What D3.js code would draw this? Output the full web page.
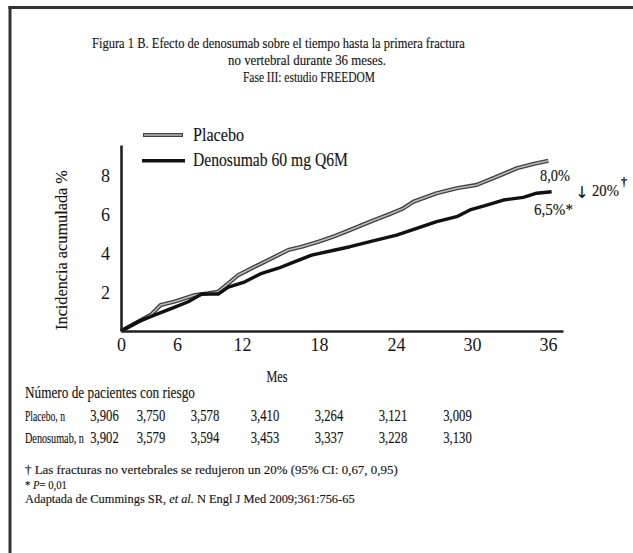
<!DOCTYPE html>
<html>
<head>
<meta charset="utf-8">
<script src="https://cdn.jsdelivr.net/npm/d3@7"></script>
<style>
  html, body { margin: 0; padding: 0; background: #fff; }
  svg { display: block; font-family: "Liberation Serif", "DejaVu Serif", serif; }
</style>
</head>
<body>
<svg id="chart" width="633" height="553"></svg>
<script>
// ---------------- DATA ----------------
const titleLines = [
  "Figura 1 B. Efecto de denosumab sobre el tiempo hasta la primera fractura",
  "no vertebral durante 36 meses.",
  "Fase III: estudio FREEDOM"
];
const seriesNames = ["Placebo", "Denosumab 60 mg Q6M"];
const monthTicks = [0, 6, 12, 18, 24, 30, 36];
const pctTicks = [2, 4, 6, 8];

const placeboMonths = [0, 1.85, 3.18, 4.25, 5.68, 6.74, 7.66, 8.89, 9.81, 10.74, 11.66, 13.01, 14.31, 15.60, 16.65, 17.95,
  19.25, 20.42, 21.98, 23.53, 24.58, 25.37, 27.21, 28.79, 30.37, 31.95, 33.53, 34.84, 36.03];
const placeboPct = [0, 0.48, 0.83, 1.34, 1.51, 1.69, 1.86, 1.95, 2.03, 2.46, 2.89, 3.32, 3.75, 4.18, 4.35, 4.61,
  4.90, 5.21, 5.64, 6.04, 6.33, 6.67, 7.11, 7.37, 7.54, 7.96, 8.40, 8.62, 8.79];

const denosumabMonths = [0, 1.85, 3.64, 5.43, 7.04, 8.28, 9.81, 10.74, 12.23, 13.54, 14.83, 16.13, 17.43,
  19.25, 20.42, 21.98, 24.05, 25.63, 27.21, 28.79, 29.84, 31.16, 32.47, 34.05, 35.11, 36.29];
const denosumabPct = [0, 0.48, 0.83, 1.17, 1.51, 1.91, 1.91, 2.26, 2.54, 2.98, 3.24, 3.58, 3.92,
  4.18, 4.35, 4.61, 4.95, 5.30, 5.64, 5.90, 6.25, 6.50, 6.76, 6.90, 7.11, 7.19];

const endLabels = ["8,0%", "6,5%*"];
const reductionLabel = "20%";

const riskTitle = "Número de pacientes con riesgo";
const riskRowLabels = ["Placebo, n", "Denosumab, n"];
const riskPlacebo = ["3,906", "3,750", "3,578", "3,410", "3,264", "3,121", "3,009"];
const riskDenosumab = ["3,902", "3,579", "3,594", "3,453", "3,337", "3,228", "3,130"];

const yTitle = "Incidencia acumulada %";
const xTitle = "Mes";
const footnote1 = "Las fracturas no vertebrales se redujeron un 20% (95% CI: 0,67, 0,95)";
const footnote2Value = "= 0,01";
const footnote3a = "Adaptada de Cummings SR,";
const footnote3b = "et al.";
const footnote3c = "N Engl J Med 2009;361:756-65";

// ---------------- DRAW ----------------
const svg = d3.select("#chart");
const INK = "#151515";

// text condensed horizontally with a transform so that it spans `width` px
function fit(t, x, y, width) {
  let sx = 1;
  if (width) sx = width / t.node().getComputedTextLength();
  t.attr("transform", `translate(${x},${y}) scale(${sx.toFixed(4)},1)`);
  return t;
}
function txt(x, y, s, size, width, opts) {
  opts = opts || {};
  const t = svg.append("text").attr("font-size", size).attr("fill", INK)
    .attr("stroke", INK).attr("stroke-width", 0.15)
    .attr("text-anchor", opts.anchor || "start").text(s);
  if (opts.italic) t.attr("font-style", "italic");
  if (opts.family) t.attr("font-family", opts.family);
  return fit(t, x, y, width);
}

// frame (top and left rule)
svg.append("line").attr("x1", 8.5).attr("x2", 633).attr("y1", 7.5).attr("y2", 7.5)
  .attr("stroke", "#333").attr("stroke-width", 3);
svg.append("line").attr("x1", 10).attr("x2", 10).attr("y1", 6).attr("y2", 553)
  .attr("stroke", "#333").attr("stroke-width", 3);

// title
const titlePos = [{x: 92, y: 48, w: 373}, {x: 228, y: 65, w: 158}, {x: 243, y: 82, w: 132}];
titleLines.forEach((t, i) => txt(titlePos[i].x, titlePos[i].y, t, 15.2, titlePos[i].w));

// scales: the x axis labels in the reference are not evenly spaced
const x = d3.scaleLinear()
  .domain([0, 6, 12, 18, 24, 30, 36, 37.2])
  .range([121, 177, 242, 319, 396, 472, 548, 563]);
const y = d3.scaleLinear().domain([0, 9.6]).range([331, 145]);

// curves
const line = d3.line().x(d => x(d[0])).y(d => y(d[1])).curve(d3.curveLinear);
const placeboData = placeboMonths.map((m, i) => [m, placeboPct[i]]);
const denoData = denosumabMonths.map((m, i) => [m, denosumabPct[i]]);

svg.append("path").datum(placeboData).attr("d", line)
  .attr("fill", "none").attr("stroke", "#404040").attr("stroke-width", 4.2).attr("stroke-linejoin", "round");
svg.append("path").datum(placeboData).attr("d", line)
  .attr("fill", "none").attr("stroke", "#bdbdbd").attr("stroke-width", 1.5).attr("stroke-linejoin", "round");
svg.append("path").datum(denoData).attr("d", line)
  .attr("fill", "none").attr("stroke", "#111").attr("stroke-width", 3.4).attr("stroke-linejoin", "round");

// axes
const yAxis = d3.axisLeft(y).tickValues(pctTicks).tickSize(0).tickSizeOuter(0).tickPadding(11);
const gy = svg.append("g").attr("transform", "translate(121,0)").call(yAxis);
gy.select(".domain").attr("stroke", "#222").attr("stroke-width", 2.6);
gy.selectAll("text").attr("font-family", "Liberation Serif, serif").attr("font-size", 18).attr("fill", INK);

const xAxis = d3.axisBottom(x).tickValues(monthTicks).tickSize(0).tickSizeOuter(0).tickPadding(7);
const gx = svg.append("g").attr("transform", "translate(0,331)").call(xAxis);
gx.select(".domain").attr("stroke", "#222").attr("stroke-width", 2.6);
gx.selectAll("text").attr("font-family", "Liberation Serif, serif").attr("font-size", 18).attr("fill", INK);

// axis titles
const yt = svg.append("text").attr("text-anchor", "middle").attr("font-size", 17).attr("fill", INK)
  .attr("stroke", INK).attr("stroke-width", 0.15).text(yTitle);
const ytW = yt.node().getComputedTextLength();
yt.attr("transform", `translate(67,250) rotate(-90) scale(${(160 / ytW).toFixed(4)},1)`);
txt(277, 382, xTitle, 16, 21, {anchor: "middle"});

// legend
const legY = [135, 160.7];
seriesNames.forEach((name, i) => {
  if (i === 0) {
    svg.append("line").attr("x1", 143).attr("x2", 183).attr("y1", legY[i]).attr("y2", legY[i])
      .attr("stroke", "#404040").attr("stroke-width", 4.2);
    svg.append("line").attr("x1", 144).attr("x2", 182).attr("y1", legY[i]).attr("y2", legY[i])
      .attr("stroke", "#bdbdbd").attr("stroke-width", 1.5);
  } else {
    svg.append("line").attr("x1", 142).attr("x2", 185).attr("y1", legY[i]).attr("y2", legY[i])
      .attr("stroke", "#111").attr("stroke-width", 3.4);
  }
  txt(193, legY[i] + 5.5, name, 18, i === 0 ? 51 : 155);
});

// end labels
txt(540, 181, endLabels[0], 17, 30);
txt(534, 215, endLabels[1], 17, 39);
txt(582, 198, "\u2193", 16, null, {anchor: "middle", family: "DejaVu Sans, sans-serif"});
txt(592, 196, reductionLabel, 17, 27);
txt(621, 186, "\u2020", 12).attr("font-weight", "bold");

// risk table
const riskCol = d3.scaleLinear().domain(monthTicks).range([104.5, 151, 205, 265, 329, 393, 457.5]);
txt(25, 398, riskTitle, 16.5, 170);
const rowY = [420.5, 442.5];
const rowW = [40, 59];
[riskPlacebo, riskDenosumab].forEach((vals, r) => {
  txt(25, rowY[r], riskRowLabels[r], 14.5, rowW[r]);
  vals.forEach((v, i) => txt(riskCol(monthTicks[i]), rowY[r], v, 16, 28.5, {anchor: "middle"}));
});

// footnotes
txt(25, 474, "\u2020 " + footnote1, 13, 373);
const f2 = svg.append("text").attr("font-size", 13).attr("fill", INK)
  .attr("stroke", INK).attr("stroke-width", 0.15);
f2.append("tspan").text("* ");
f2.append("tspan").attr("font-style", "italic").text("P");
f2.append("tspan").text(footnote2Value);
fit(f2, 25, 488.5, 42);
const f3 = svg.append("text").attr("font-size", 13).attr("fill", INK)
  .attr("stroke", INK).attr("stroke-width", 0.15);
f3.append("tspan").text(footnote3a + " ");
f3.append("tspan").attr("font-style", "italic").text(footnote3b);
f3.append("tspan").text(" " + footnote3c);
fit(f3, 25, 503, 330);
</script>
</body>
</html>
